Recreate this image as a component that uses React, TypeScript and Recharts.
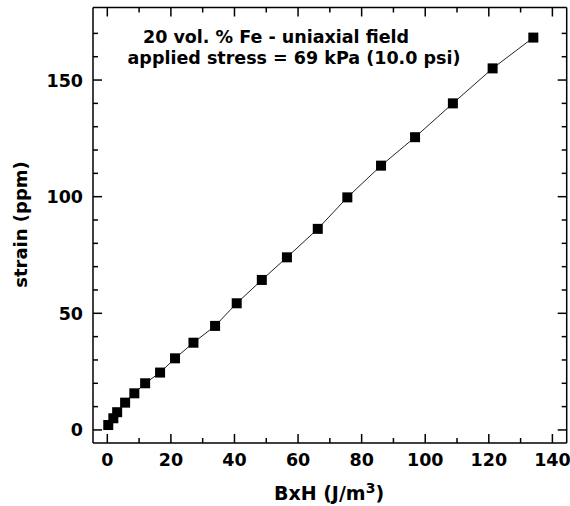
import { ScatterChart, Scatter, XAxis, YAxis } from "recharts";

// BxH (J/m^3) vs strain (ppm)
const bxh = [0.3, 1.9, 3.1, 5.6, 8.5, 11.9, 16.6, 21.3, 27.1, 33.9, 40.7, 48.6, 56.5, 66.2, 75.5, 86.1, 96.8, 108.7, 121.2, 134.0];
const strain = [2.1, 5.0, 7.6, 11.7, 15.7, 20.0, 24.6, 30.7, 37.4, 44.6, 54.3, 64.3, 74.0, 86.2, 99.7, 113.3, 125.5, 140.0, 155.0, 168.2];

const xTicks = [0, 10, 20, 30, 40, 50, 60, 70, 80, 90, 100, 110, 120, 130, 140];
const yTicks = [0, 10, 20, 30, 40, 50, 60, 70, 80, 90, 100, 110, 120, 130, 140, 150, 160, 170];

const title1 = "20 vol. % Fe - uniaxial field";
const title2 = "applied stress = 69 kPa (10.0 psi)";

const points = bxh.map((x, i) => ({ x, y: strain[i] }));

const FONT = "'DejaVu Sans', sans-serif";
const MAJOR = 9;
const MINOR = 5;

function BottomTick(props: any) {
  const { x, y, payload } = props;
  const major = payload.value % 20 === 0;
  return (
    <g>
      <line x1={x} x2={x} y1={y} y2={y - (major ? MAJOR : MINOR)} stroke="#000" strokeWidth={1.5} />
      {major && (
        <text x={x} y={y + 23} textAnchor="middle" fontFamily={FONT} fontWeight="bold" fontSize={17.5} fill="#000">
          {payload.value}
        </text>
      )}
    </g>
  );
}

function TopTick(props: any) {
  const { x, y, payload } = props;
  const major = payload.value % 20 === 0;
  return <line x1={x} x2={x} y1={y} y2={y + (major ? MAJOR : MINOR)} stroke="#000" strokeWidth={1.5} />;
}

function LeftTick(props: any) {
  const { x, y, payload } = props;
  const major = payload.value % 50 === 0;
  return (
    <g>
      <line x1={x} x2={x + (major ? MAJOR : MINOR)} y1={y} y2={y} stroke="#000" strokeWidth={1.5} />
      {major && (
        <text x={x - 10} y={y + 6.5} textAnchor="end" fontFamily={FONT} fontWeight="bold" fontSize={17.5} fill="#000">
          {payload.value}
        </text>
      )}
    </g>
  );
}

function RightTick(props: any) {
  const { x, y, payload } = props;
  const major = payload.value % 50 === 0;
  return <line x1={x} x2={x - (major ? MAJOR : MINOR)} y1={y} y2={y} stroke="#000" strokeWidth={1.5} />;
}

function Square(props: any) {
  const { cx, cy } = props;
  return <rect x={cx - 5} y={cy - 5} width={10} height={10} fill="#000" />;
}

export default function App() {
  const axisLine = { stroke: "#000", strokeWidth: 1.5 };
  return (
    <div style={{ position: "absolute", left: 0, top: 0, width: 570, height: 506, background: "#fff" }}>
      <ScatterChart width={570} height={506} margin={{ top: 0.5, right: 0, bottom: 0, left: 0 }}>
        <XAxis
          xAxisId="b"
          type="number"
          dataKey="x"
          domain={[-4.5, 144.5]}
          ticks={xTicks}
          interval={0}
          height={63}
          tickSize={0}
          tickMargin={0}
          tickLine={false}
          axisLine={axisLine}
          tick={<BottomTick />}
          allowDataOverflow
        />
        <XAxis
          xAxisId="t"
          orientation="top"
          type="number"
          dataKey="x"
          domain={[-4.5, 144.5]}
          ticks={xTicks}
          interval={0}
          height={7}
          tickSize={0}
          tickMargin={0}
          tickLine={false}
          axisLine={axisLine}
          tick={<TopTick />}
          allowDataOverflow
        />
        <YAxis
          yAxisId="l"
          type="number"
          dataKey="y"
          domain={[-5.6, 181.1]}
          ticks={yTicks}
          interval={0}
          width={93}
          tickSize={0}
          tickMargin={0}
          tickLine={false}
          axisLine={axisLine}
          tick={<LeftTick />}
          allowDataOverflow
        />
        <YAxis
          yAxisId="r"
          orientation="right"
          type="number"
          dataKey="y"
          domain={[-5.6, 181.1]}
          ticks={yTicks}
          interval={0}
          width={3.3}
          tickSize={0}
          tickMargin={0}
          tickLine={false}
          axisLine={axisLine}
          tick={<RightTick />}
          allowDataOverflow
        />
        <Scatter
          xAxisId="b"
          yAxisId="l"
          data={points}
          line={{ stroke: "#222", strokeWidth: 1 }}
          lineType="joint"
          shape={<Square />}
          isAnimationActive={false}
        />
      </ScatterChart>
      <svg width={570} height={506} style={{ position: "absolute", left: 0, top: 0, pointerEvents: "none" }}>
        <g fontFamily={FONT} fontWeight="bold" fill="#000">
          <text x={276} y={43} textAnchor="middle" fontSize={17.5}>{title1}</text>
          <text x={294} y={64} textAnchor="middle" fontSize={17.5}>{title2}</text>
          <text x={27} y={224.5} textAnchor="middle" fontSize={18} transform="rotate(-90 27 224.5)">
            strain (ppm)
          </text>
          <text x={329} y={500} textAnchor="middle" fontSize={19}>
            BxH (J/m<tspan fontSize={14} dy={-7}>3</tspan>
            <tspan dy={7}>)</tspan>
          </text>
        </g>
      </svg>
    </div>
  );
}
